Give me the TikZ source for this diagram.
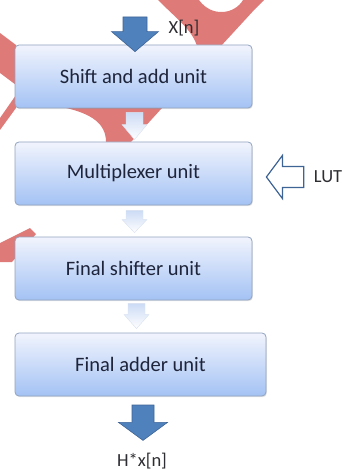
\documentclass[tikz,border=0pt]{standalone}
\usepackage{fontspec}
\setmainfont{Carlito}
\definecolor{boxtop}{RGB}{241,244,253}
\definecolor{boxbottom}{RGB}{163,194,244}
\definecolor{boxedge}{RGB}{146,163,192}
\definecolor{unittext}{RGB}{30,36,58}
\definecolor{labeltext}{RGB}{45,45,50}
\definecolor{flowblue}{RGB}{79,129,189}
\definecolor{flowedge}{RGB}{62,100,150}
\definecolor{linkblue}{RGB}{204,219,245}
\definecolor{linkedge}{RGB}{218,226,240}
\definecolor{markred}{RGB}{222,122,120}
\usetikzlibrary{calc, positioning, shadows}

% downward block arrow: style, from, to, shaft half width, head half width, head length
\newcommand{\dnarrow}[6]{%
  \path[#1] let \p1=#2, \p2=#3 in
    (\x1-#4,\y1) -- (\x1+#4,\y1) -- (\x1+#4,\y2+#6) -- (\x1+#5,\y2+#6)
    -- (\x1,\y2) -- (\x1-#5,\y2+#6) -- (\x1-#4,\y2+#6) -- cycle;}

\begin{document}
\begin{tikzpicture}[x=1pt, y=-1pt,
  unit/.style={draw=boxedge, line width=0.8pt, rounded corners=4pt,
    top color=boxtop, bottom color=boxbottom, minimum width=237pt,
    minimum height=63pt, inner sep=0pt, text=unittext,
    font=\fontsize{20.5}{24}\selectfont,
    drop shadow={opacity=0.22, shadow xshift=0.8pt, shadow yshift=-1.2pt}},
  lbl/.style={font=\fontsize{18.5}{22}\selectfont, text=labeltext, inner sep=1pt},
  bigarrow/.style={fill=flowblue, draw=flowedge, line width=0.6pt},
  smallarrow/.style={top color=linkblue, bottom color=white, draw=linkedge,
    line width=0.4pt},
  hollow/.style={fill=white, draw=flowedge, line width=1.2pt},
  wmark/.style={fill=markred, draw=none},
]
\useasboundingbox (0,0) rectangle (344,470);

% Red marks behind the chart
\path[wmark] (158,0) .. controls (178,20) and (192,30) .. (197,46) -- (221,46)
  -- (255,9) -- (264,0) -- (243,0)
  .. controls (235,14) and (212,18) .. (199,0) -- cycle;
\path[wmark] (0,33) -- (16,45) -- (16,85) -- (0,73) -- cycle;
\path[wmark] (16,95) -- (16,108) -- (0,130) -- (0,118) -- cycle;
\path[wmark] (66,108) .. controls (92,114) and (106,124) .. (106,142)
  -- (131,142) -- (162,108) -- cycle;
\path[wmark] (0,243) -- (30,228) -- (36,234) -- (12,262) -- (0,262) -- cycle;

% Units
\node[unit] (shift) at (133.5,76.5) {Shift and add unit};
\node[unit] (mux) at (133.5,173.5) {Multiplexer unit};
\node[unit] (fshift) at (133.5,268.5) {Final shifter unit};
\node[unit, minimum width=251pt] (fadd) at (140.5,364.5) {Final adder unit};

% Input and output
\coordinate (xin) at (135,17);
\node[lbl] (xn) at (184,28) {X[n]};
\dnarrow{bigarrow}{(xin)}{([yshift=-7pt]shift.north)}{12pt}{23.5pt}{20pt}
\coordinate (yout) at (143,405);
\dnarrow{bigarrow}{(yout)}{([yshift=-44pt]fadd.south)}{11pt}{24.5pt}{18pt}
\node[lbl, anchor=base] (hxn) at (142,466) {H*x[n]};

% Links between units
\dnarrow{smallarrow}{([xshift=1pt,yshift=-4pt]shift.south)}{([yshift=2pt]mux.north)}{8.5pt}{12.5pt}{15pt}
\dnarrow{smallarrow}{([xshift=1pt,yshift=-5pt]mux.south)}{([yshift=4pt]fshift.north)}{8.5pt}{12.5pt}{13pt}
\dnarrow{smallarrow}{([xshift=3pt,yshift=-3pt]fshift.south)}{([yshift=4pt]fadd.north)}{8.5pt}{12.5pt}{14pt}

% Table input
\node[lbl] (lut) at (328,177) {LUT};
\path[hollow] let \p1=([xshift=-9pt]lut.west), \p2=([xshift=14pt]mux.east) in
  (\x1,\y1+10.5pt) -- (\x2+16pt,\y1+10.5pt) -- (\x2+16pt,\y1+21.5pt) -- (\x2,\y1)
  -- (\x2+16pt,\y1-21.5pt) -- (\x2+16pt,\y1-10.5pt) -- (\x1,\y1-10.5pt) -- cycle;
\end{tikzpicture}
\end{document}
